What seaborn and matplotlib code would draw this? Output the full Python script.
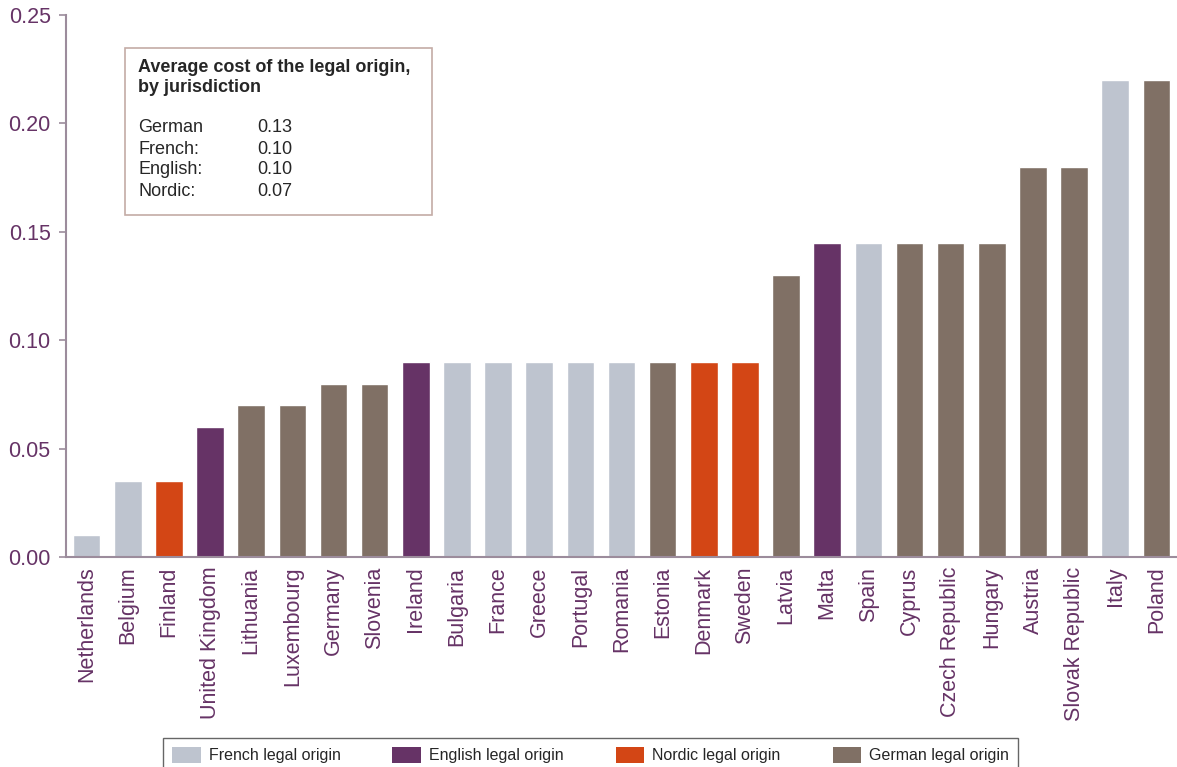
import pandas as pd
import matplotlib.pyplot as plt
import seaborn as sns
from matplotlib.patches import Rectangle, Patch

# Data
countries = ["Netherlands", "Belgium", "Finland", "United Kingdom", "Lithuania",
             "Luxembourg", "Germany", "Slovenia", "Ireland", "Bulgaria", "France",
             "Greece", "Portugal", "Romania", "Estonia", "Denmark", "Sweden",
             "Latvia", "Malta", "Spain", "Cyprus", "Czech Republic", "Hungary",
             "Austria", "Slovak Republic", "Italy", "Poland"]
costs = [0.01, 0.035, 0.035, 0.06, 0.07, 0.07, 0.08, 0.08, 0.09, 0.09, 0.09,
         0.09, 0.09, 0.09, 0.09, 0.09, 0.09, 0.13, 0.145, 0.145, 0.145, 0.145,
         0.145, 0.18, 0.18, 0.22, 0.22]
origins = ["French", "French", "Nordic", "English", "German", "German", "German",
           "German", "English", "French", "French", "French", "French", "French",
           "German", "Nordic", "Nordic", "German", "English", "French", "German",
           "German", "German", "German", "German", "French", "German"]

origin_order = ["French", "English", "Nordic", "German"]
origin_colors = {"French": "#BEC4CF", "English": "#663366",
                 "Nordic": "#D34615", "German": "#807065"}

box_rows = ["German", "French:", "English:", "Nordic:"]
box_values = ["0.13", "0.10", "0.10", "0.07"]

df = pd.DataFrame({"country": countries, "cost": costs, "origin": origins})

sns.set_theme(style="white")
plt.rcParams["font.family"] = ["Liberation Sans", "DejaVu Sans"]

label_color = "#663366"
spine_color = "#9C8C9C"

fig = plt.figure(figsize=(11.77, 7.67), dpi=100)
ax = fig.add_axes([66 / 1177, 1 - 557 / 767, 1 - 66 / 1177, (557 - 15) / 767])

sns.barplot(data=df, x="country", y="cost", hue="origin", palette=origin_colors,
            hue_order=origin_order, dodge=False, width=0.67, legend=False,
            saturation=1, ax=ax)

ax.set_xlim(-0.5, len(countries) - 0.5)
ax.set_ylim(0, 0.25)
ax.set_yticks([0, 0.05, 0.10, 0.15, 0.20, 0.25])
ax.set_yticklabels([f"{v:.2f}" for v in ax.get_yticks()])
ax.set_xlabel("")
ax.set_ylabel("")

ax.tick_params(axis="x", which="major", length=0, rotation=90, labelsize=15.5,
               labelcolor=label_color, pad=7)
ax.set_xticks([i - 0.5 for i in range(len(countries) + 1)], minor=True)
ax.tick_params(axis="x", which="minor", length=6, width=1.2, color=spine_color,
               direction="out")
ax.tick_params(axis="y", length=5, width=1.2, color=spine_color, direction="out",
               labelsize=15.5, labelcolor=label_color, left=True, pad=6)

sns.despine(ax=ax)
for side in ["left", "bottom"]:
    ax.spines[side].set_color(spine_color)
    ax.spines[side].set_linewidth(1.5)

# Text box with the averages
fig.patches.append(Rectangle((125 / 1177, 1 - 215 / 767), 307 / 1177, 167 / 767,
                             transform=fig.transFigure, facecolor="white",
                             edgecolor="#C4ACA6", linewidth=1.2, zorder=5))
fig.text(138 / 1177, 1 - 67 / 767, "Average cost of the legal origin,",
         fontsize=13, fontweight="bold", va="center", zorder=6)
fig.text(138 / 1177, 1 - 88 / 767, "by jurisdiction",
         fontsize=13, fontweight="bold", va="center", zorder=6)
for i, (name, val) in enumerate(zip(box_rows, box_values)):
    y = 1 - (128 + 21 * i) / 767
    fig.text(138 / 1177, y, name, fontsize=13, va="center", zorder=6)
    fig.text(257 / 1177, y, val, fontsize=13, va="center", zorder=6)

# Legend below the chart (its lower edge runs off the canvas, as in the reference)
handles = [Patch(facecolor=origin_colors[o], edgecolor="none") for o in origin_order]
labels = [f"{o} legal origin" for o in origin_order]
leg = fig.legend(handles, labels, loc="upper left", ncol=4, mode="expand",
                 bbox_to_anchor=(163 / 1177, 1 - 738 / 767, (1018 - 163) / 1177, 0),
                 fontsize=11.5, frameon=True, fancybox=False, borderpad=0.55,
                 borderaxespad=0, handlelength=1.8, handleheight=1.2,
                 handletextpad=0.5)
leg.get_frame().set_edgecolor("#404040")
leg.get_frame().set_linewidth(1.0)

fig.savefig("out.png", dpi=100)
